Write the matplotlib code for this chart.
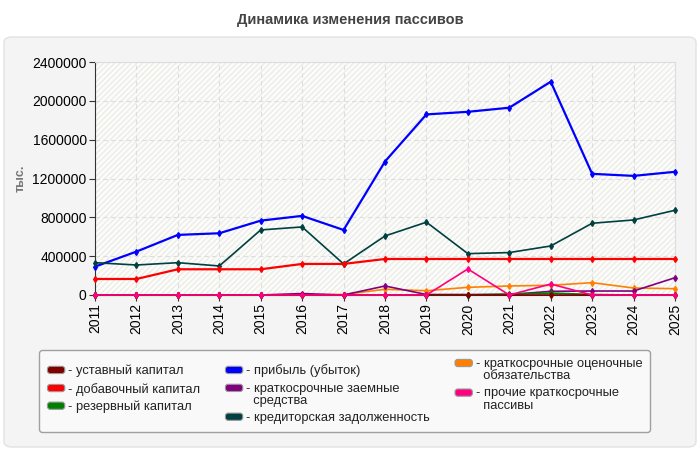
import numpy as np
import matplotlib.pyplot as plt
import matplotlib.patches as mpatches
from matplotlib.legend_handler import HandlerPatch

years = list(range(2011, 2026))

ustavny = [5000] * 15
dobavochny = [165000, 165000, 265000, 265000, 265000, 320000, 320000, 371000,
              371000, 371000, 371000, 371000, 371000, 371000, 371000]
rezervny = [0, 0, 0, 0, 0, 0, 0, 0, 0, 0, 10000, 20000, 5000, 0, 0]
pribyl = [292000, 447000, 619000, 636000, 766000, 815000, 670000, 1375000,
          1860000, 1887000, 1929000, 2197000, 1248000, 1227000, 1269000]
zaemnye = [0, 0, 0, 0, 0, 15000, 0, 93000, 5000, 5000, 5000, 38000, 41000, 41000, 178000]
kreditor = [333000, 309000, 333000, 299000, 670000, 701000, 320000, 608000,
            750000, 426000, 437000, 505000, 739000, 773000, 873000]
ocenochnye = [0, 0, 0, 0, 0, 0, 5000, 59000, 44000, 79000, 93000, 100000, 127000, 72000, 65000]
prochie = [0, 0, 0, 0, 0, 0, 0, 0, 0, 268000, 0, 113000, 0, 0, 0]

series = [
    ("- уставный капитал", ustavny, "#800000"),
    ("- добавочный капитал", dobavochny, "#ff0000"),
    ("- резервный капитал", rezervny, "#008000"),
    ("- прибыль (убыток)", pribyl, "#0000ff"),
    ("- краткосрочные заемные\n  средства", zaemnye, "#800080"),
    ("- кредиторская задолженность", kreditor, "#004040"),
    ("- краткосрочные оценочные\n  обязательства", ocenochnye, "#ff8000"),
    ("- прочие краткосрочные\n  пассивы", prochie, "#ff0080"),
]


class TopHandler(HandlerPatch):
    # keeps the colour box on the first line of a two-line label
    def __init__(self, shift=0, **kw):
        super().__init__(**kw)
        self.shift = shift

    def create_artists(self, legend, orig_handle, xdescent, ydescent, width, height, fontsize, trans):
        p = mpatches.FancyBboxPatch((-xdescent + 0.5, -ydescent + self.shift + 0.5), width - 1, height - 1,
                                    boxstyle="round,pad=0,rounding_size=2",
                                    facecolor=orig_handle.get_facecolor(), edgecolor='#999999',
                                    linewidth=0.8, transform=trans)
        return [p]


plt.rcParams['font.family'] = ['Liberation Sans', 'DejaVu Sans']

fig = plt.figure(figsize=(7, 4.5), dpi=100, facecolor='white')

# outer gray panel
panel = mpatches.FancyBboxPatch((4 / 700, 3 / 450), 692 / 700, 410 / 450,
                                boxstyle="round,pad=0,rounding_size=0.012",
                                transform=fig.transFigure, facecolor='#f4f4f4',
                                edgecolor='#e2e2e2', linewidth=1, zorder=-5)
fig.patches.append(panel)

fig.text(0.5, 1 - 20 / 450, "Динамика изменения пассивов", ha='center', va='center',
         fontsize=10.5, fontweight='bold', color='#444444')

ax = fig.add_axes([95 / 700, 1 - 295 / 450, 580 / 700, 233 / 450], zorder=2)
ax.set_facecolor('#fcfcf8')
ax.add_patch(mpatches.Rectangle((0, 0), 1, 1, transform=ax.transAxes, facecolor='none',
                                edgecolor='#ececec', hatch='//////', linewidth=0, zorder=0))

# draw order: big lines first, small ones on top
order = [3, 5, 1, 6, 4, 2, 0, 7]
for i in order:
    label, vals, col = series[i]
    lw = 1.6 if i in (1, 3) else 1.2
    ax.plot(years, vals, color=col, lw=lw, marker='d', ms=3, zorder=3, clip_on=False)

ax.set_xlim(2011, 2025)
ax.set_ylim(0, 2400000)
ax.set_xticks(years)
ax.set_xticklabels([str(y) for y in years], rotation=90, fontsize=10)
ax.set_yticks(np.arange(0, 2400001, 400000))
ax.set_yticklabels([str(v) for v in range(0, 2400001, 400000)], fontsize=10)
ax.tick_params(axis='both', length=4, color='#333333', pad=2)
ax.grid(True, ls=(0, (4, 3)), color='#dddddd', lw=0.8, zorder=1)
ax.set_axisbelow(True)
for s in ('top', 'right'):
    ax.spines[s].set_color('#dddddd')
for s in ('left', 'bottom'):
    ax.spines[s].set_color('#333333')
ax.set_ylabel("тыс.", fontsize=9, fontweight='bold', color='#777777')
ax.yaxis.set_label_coords((27 - 95) / 580, 0.5)

handles = [mpatches.Patch(facecolor=c, label=l) for l, v, c in series]
hmap = {h: TopHandler(shift=5 if '\n' in h.get_label() else 0) for h in handles}
leg = fig.legend(handles=handles, handler_map=hmap, loc='upper left',
                 bbox_to_anchor=(39 / 700, 1 - 350 / 450), borderaxespad=0,
                 ncol=3, prop={'size': 9.3}, frameon=True, fancybox=True,
                 handlelength=1.45, handleheight=0.65, handletextpad=0.2, columnspacing=1.9,
                 labelspacing=0.4, borderpad=0.6, alignment='left')
leg.get_frame().set_facecolor('#f9f9f9')
leg.get_frame().set_edgecolor('#a0a0a0')
leg.get_frame().set_alpha(1)
for t in leg.get_texts():
    t.set_color('#222222')
    t.set_linespacing(1.05)

fig.savefig('out.png', dpi=100, facecolor=fig.get_facecolor())
